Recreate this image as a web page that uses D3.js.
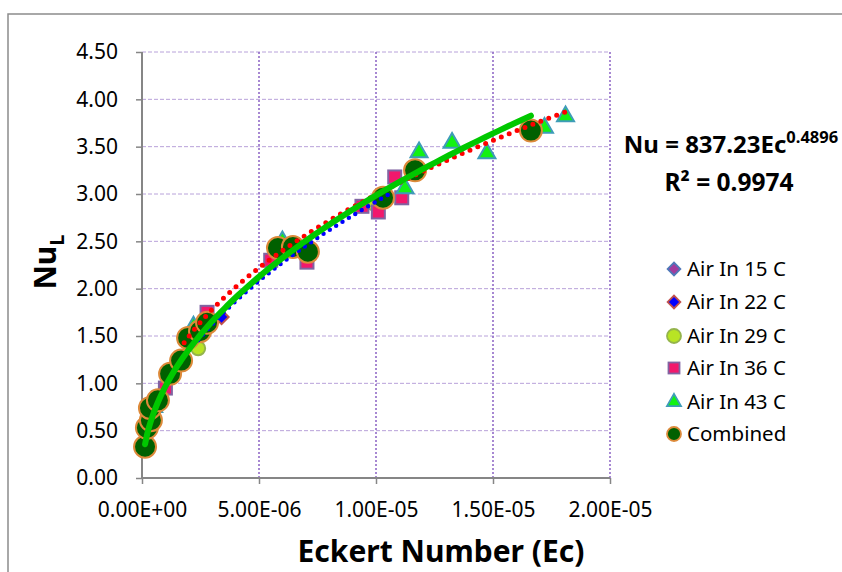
<!DOCTYPE html>
<html>
<head>
<meta charset="utf-8">
<script src="https://cdn.jsdelivr.net/npm/d3@7.9.0/dist/d3.min.js"></script>
<style>
  html, body { margin: 0; padding: 0; background: #fff; }
  svg { display: block; font-family: "Noto Sans", "Open Sans", sans-serif; }
</style>
</head>
<body>
<svg id="chart" width="842" height="572"></svg>
<script>
// ---------- data (Ec, Nu) ----------
const air15 = [[0.12e-6, 0.32], [0.6e-6, 0.78], [1.7e-6, 1.26], [2.6e-6, 1.58], [6.2e-6, 2.46], [10.0e-6, 2.88]];
const air22 = [[0.2e-6, 0.50], [1.2e-6, 1.10], [3.4e-6, 1.70], [7.0e-6, 2.42], [10.4e-6, 2.95]];
const air29 = [[0.3e-6, 0.55], [2.4e-6, 1.37], [5.9e-6, 2.45], [9.9e-6, 2.90]];
const air36 = [[0.25e-6, 0.60], [1.0e-6, 0.95], [2.78e-6, 1.75], [5.5e-6, 2.30], [7.05e-6, 2.28],
               [9.4e-6, 2.87], [10.1e-6, 2.81], [10.8e-6, 3.18], [11.1e-6, 2.96]];
const air43 = [[0.5e-6, 0.75], [2.2e-6, 1.60], [6.0e-6, 2.50], [11.24e-6, 3.06], [11.84e-6, 3.44],
               [13.25e-6, 3.54], [14.74e-6, 3.43], [17.2e-6, 3.70], [18.1e-6, 3.82]];
const combined = [[0.13e-6, 0.33], [0.21e-6, 0.53], [0.38e-6, 0.61], [0.34e-6, 0.74], [0.68e-6, 0.82],
                  [1.2e-6, 1.10], [1.67e-6, 1.24], [1.97e-6, 1.48], [2.48e-6, 1.55], [2.78e-6, 1.64],
                  [5.81e-6, 2.43], [6.45e-6, 2.44], [7.09e-6, 2.39], [10.3e-6, 2.96], [11.67e-6, 3.25],
                  [16.62e-6, 3.67]];

// power trendlines: [a, b, EcFrom, EcTo]  (Nu = a * Ec^b)
const fitCombined = [837.23, 0.4896, 0.13e-6, 16.62e-6];
const fitRed = [431.2, 0.4317, 1.8e-6, 18.1e-6];
const fitBlue = [804, 0.488, 2.4e-6, 10.7e-6];

const xTicks = [0, 5e-6, 1e-5, 1.5e-5, 2e-5];
const yTicks = [0, 0.5, 1, 1.5, 2, 2.5, 3, 3.5, 4, 4.5];
const legendLabels = ["Air In 15 C", "Air In 22 C", "Air In 29 C", "Air In 36 C", "Air In 43 C", "Combined"];

// ---------- setup ----------
const svg = d3.select('#chart');
const x = d3.scaleLinear().domain([0, 2e-5]).range([142, 610]);
const y = d3.scaleLinear().domain([0, 4.5]).range([478, 52]);

// chart frame
svg.append('rect')
  .attr('x', 8).attr('y', 14).attr('width', 900).attr('height', 600)
  .attr('fill', '#fff').attr('stroke', '#8c8c8c').attr('stroke-width', 1.5);

function fmtE(v) {
  if (v === 0) return '0.00E+00';
  const e = Math.floor(Math.log10(v) + 1e-9);
  const m = v / Math.pow(10, e);
  return m.toFixed(2) + 'E' + (e < 0 ? '-' : '+') + String(Math.abs(e)).padStart(2, '0');
}

// gridlines
svg.append('g').selectAll('line')
  .data(yTicks.filter(d => d > 0))
  .enter().append('line')
  .attr('x1', x(0)).attr('x2', x(2e-5))
  .attr('y1', d => y(d)).attr('y2', d => y(d))
  .attr('stroke', '#b8a2da').attr('stroke-width', 1).attr('stroke-dasharray', '4 2');

svg.append('g').selectAll('line')
  .data(xTicks.filter(d => d > 0))
  .enter().append('line')
  .attr('x1', d => x(d)).attr('x2', d => x(d))
  .attr('y1', y(0)).attr('y2', y(4.5))
  .attr('stroke', '#8a62c4').attr('stroke-width', 1.5).attr('stroke-dasharray', '2 2');

// axes
const xAxis = svg.append('g')
  .attr('transform', `translate(0,${y(0)})`)
  .call(d3.axisBottom(x).tickValues(xTicks).tickFormat(fmtE).tickSize(6).tickPadding(18));
const yAxis = svg.append('g')
  .attr('transform', `translate(${x(0)},0)`)
  .call(d3.axisLeft(y).tickValues(yTicks).tickFormat(d3.format('.2f')).tickSize(6).tickPadding(18));

[xAxis, yAxis].forEach(g => {
  g.select('.domain').attr('stroke', '#868686').attr('stroke-width', 2);
  g.selectAll('.tick line').attr('stroke', '#868686').attr('stroke-width', 1.5);
  g.selectAll('.tick text')
    .attr('fill', '#000').attr('font-size', 21)
    .attr('font-family', '"Noto Sans", sans-serif');
});
yAxis.select('.domain').attr('d', `M0,${y(0)}V${y(4.5)}`);
xAxis.select('.domain').attr('d', `M${x(0)},0H${x(2e-5)}`);

// axis titles
svg.append('text')
  .attr('x', 441).attr('y', 562)
  .attr('text-anchor', 'middle')
  .attr('font-size', 30).attr('font-weight', 'bold')
  .text('Eckert Number (Ec)');

const yt = svg.append('text')
  .attr('transform', 'translate(56,262) rotate(-90)')
  .attr('text-anchor', 'middle')
  .attr('font-size', 30).attr('font-weight', 'bold');
yt.append('tspan').text('Nu');
yt.append('tspan').attr('font-size', 20).attr('dy', 8).text('L');

// ---------- markers ----------
const styles = [
  { data: air15, shape: 'diamond', fill: '#a23c9e', stroke: '#4f78b8', size: 10 },
  { data: air22, shape: 'diamond', fill: '#0000ff', stroke: '#c0504d', size: 10 },
  { data: air29, shape: 'circle', fill: '#b8e424', stroke: '#94b44c', size: 7 },
  { data: air36, shape: 'square', fill: '#f2186c', stroke: '#8064a2', size: 13 },
  { data: air43, shape: 'triangle', fill: '#12f212', stroke: '#3e9cb8', size: 17 },
  { data: combined, shape: 'circle', fill: '#006000', stroke: '#dd8a3a', size: 11 }
];

function drawMarker(g, shape, size, fill, stroke, sw) {
  let el;
  if (shape === 'circle') {
    el = g.append('circle').attr('r', size);
  } else if (shape === 'square') {
    el = g.append('rect').attr('x', -size / 2).attr('y', -size / 2).attr('width', size).attr('height', size);
  } else if (shape === 'diamond') {
    el = g.append('rect').attr('x', -size / 2).attr('y', -size / 2).attr('width', size).attr('height', size)
      .attr('transform', 'rotate(45)');
  } else {
    const h = size * Math.sqrt(3) / 2;
    el = g.append('path').attr('d', `M0,${-h * 2 / 3}L${size / 2},${h / 3}L${-size / 2},${h / 3}Z`);
  }
  el.attr('fill', fill).attr('stroke', stroke).attr('stroke-width', sw);
}

styles.forEach(s => {
  const g = svg.append('g');
  s.data.forEach(d => {
    const m = g.append('g').attr('transform', `translate(${x(d[0])},${y(d[1])})`);
    drawMarker(m, s.shape, s.size, s.fill, s.stroke, 2);
  });
});

// ---------- trendlines ----------
function fitPoints(fit) {
  const [a, b, lo, hi] = fit;
  return d3.range(0, 81).map(i => {
    const ec = lo + (hi - lo) * Math.pow(i / 80, 1.6);
    return [ec, a * Math.pow(ec, b)];
  });
}
const line = d3.line().x(d => x(d[0])).y(d => y(d[1])).curve(d3.curveMonotoneX);

svg.append('path').datum(fitPoints(fitBlue))
  .attr('d', line).attr('fill', 'none')
  .attr('stroke', '#0000ff').attr('stroke-width', 4.5)
  .attr('stroke-linecap', 'round').attr('stroke-dasharray', '0 7.5');

svg.append('path').datum(fitPoints(fitRed))
  .attr('d', line).attr('fill', 'none')
  .attr('stroke', '#ff0000').attr('stroke-width', 5)
  .attr('stroke-linecap', 'round').attr('stroke-dasharray', '0 8.5');

svg.append('path').datum(fitPoints(fitCombined))
  .attr('d', line).attr('fill', 'none')
  .attr('stroke', '#00c800').attr('stroke-width', 6)
  .attr('stroke-linecap', 'round');

// ---------- equation ----------
const eq = svg.append('text')
  .attr('x', 731).attr('y', 153)
  .attr('text-anchor', 'middle')
  .attr('font-size', 24).attr('font-weight', 'bold');
eq.append('tspan').text('Nu = 837.23Ec');
eq.append('tspan').attr('font-size', 16.5).attr('dy', -10).text('0.4896');

svg.append('text')
  .attr('x', 729).attr('y', 191)
  .attr('text-anchor', 'middle')
  .attr('font-size', 24.5).attr('font-weight', 'bold')
  .text('R² = 0.9974');

// ---------- legend ----------
const legendY = [269, 302, 336, 368, 402, 434];
const legendSize = [9, 9, 7, 11, 14, 7];
const lg = svg.append('g');
styles.forEach((s, i) => {
  const m = lg.append('g').attr('transform', `translate(674,${legendY[i]})`);
  drawMarker(m, s.shape, legendSize[i], s.fill, s.stroke, 1.8);
  lg.append('text')
    .attr('x', 687).attr('y', legendY[i] + 7)
    .attr('font-size', 20.5)
    .text(legendLabels[i]);
});
</script>
</body>
</html>
